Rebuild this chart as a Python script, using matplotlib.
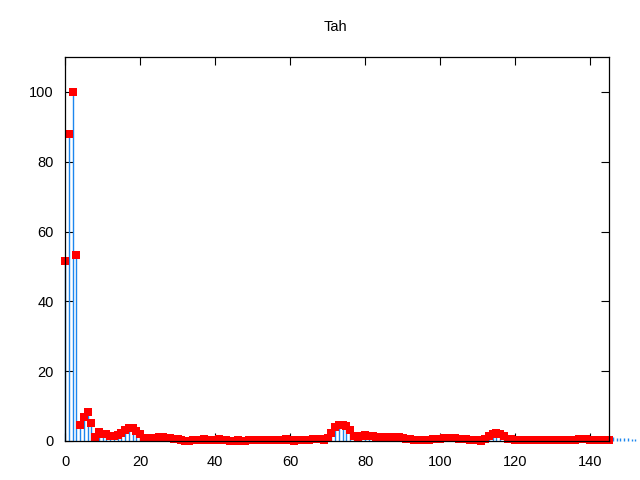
import matplotlib
matplotlib.use("Agg")
import matplotlib.pyplot as plt

# --- Data (index 0..145) ---
vals = [51.5, 88.0, 100.0, 53.2, 4.5, 6.9, 8.4, 5.1, 1.2, 2.7,
        1.9, 1.9, 1.3, 1.5, 1.8, 2.2, 3.2, 3.8, 3.8, 3.0,
        2.1, 1.0, 1.0, 0.9, 1.0, 1.2, 1.2, 0.9, 0.9, 0.7,
        0.5, 0.2, 0.0, 0.0, 0.2, 0.2, 0.4, 0.5, 0.4, 0.3,
        0.4, 0.5, 0.3, 0.2, 0.1, 0.1, 0.2, 0.0, 0.1, 0.2,
        0.2, 0.2, 0.2, 0.2, 0.2, 0.2, 0.3, 0.3, 0.3, 0.5,
        0.3, 0.0, 0.2, 0.3, 0.2, 0.4, 0.7, 0.7, 0.7, 0.4,
        0.9, 2.3, 4.0, 4.7, 4.7, 4.3, 3.2, 1.4, 0.9, 1.5,
        1.6, 1.5, 1.4, 1.2, 1.2, 1.1, 1.0, 1.2, 1.2, 1.2,
        1.0, 0.7, 0.7, 0.4, 0.4, 0.4, 0.4, 0.4, 0.5, 0.5,
        0.7, 1.0, 1.0, 1.0, 0.8, 0.5, 0.5, 0.5, 0.4, 0.2,
        0.2, 0.1, 0.7, 1.5, 1.9, 2.2, 2.0, 1.5, 0.7, 0.5,
        0.4, 0.3, 0.3, 0.2, 0.2, 0.2, 0.2, 0.2, 0.2, 0.2,
        0.2, 0.2, 0.2, 0.2, 0.2, 0.3, 0.4, 0.5, 0.5, 0.5,
        0.4, 0.3, 0.3, 0.3, 0.3, 0.3]
# impulses keep going past the x range
tail = [1.1, 1.0, 0.9, 0.9, 0.8, 0.7, 0.6]

x_pts = list(range(len(vals)))
imp_vals = vals + tail
x_imp = list(range(len(imp_vals)))

xticks = [0, 20, 40, 60, 80, 100, 120, 140]
yticks = [0, 20, 40, 60, 80, 100]

# --- Plot ---
plt.rcParams['font.family'] = ['Liberation Sans', 'DejaVu Sans']
fig = plt.figure(figsize=(6.4, 4.8), dpi=100)
ax = fig.add_axes([65 / 640, 1 - 441 / 480, 544 / 640, 384 / 480])

ax.vlines(x_imp, 0, imp_vals, color='#1c86ee', linewidth=1.0, clip_on=False, zorder=2)
ax.plot(x_pts, vals, linestyle='none', marker='s', markersize=5.4,
        markeredgewidth=0, color='#ff0000', clip_on=False, zorder=3)

ax.set_xlim(0, 145)
ax.set_ylim(0, 110)
ax.set_xticks(xticks)
ax.set_yticks(yticks)
ax.tick_params(direction='in', length=6, width=0.8, top=True, right=True,
               labelsize=10.5)
ax.tick_params(axis='x', pad=10)
ax.tick_params(axis='y', pad=8)
for s in ax.spines.values():
    s.set_linewidth(0.9)
    s.set_zorder(4)

fig.text(335 / 640, 1 - 27 / 480, "Tah", ha='center', va='center', fontsize=10.5)

fig.savefig("out.png", dpi=100)
